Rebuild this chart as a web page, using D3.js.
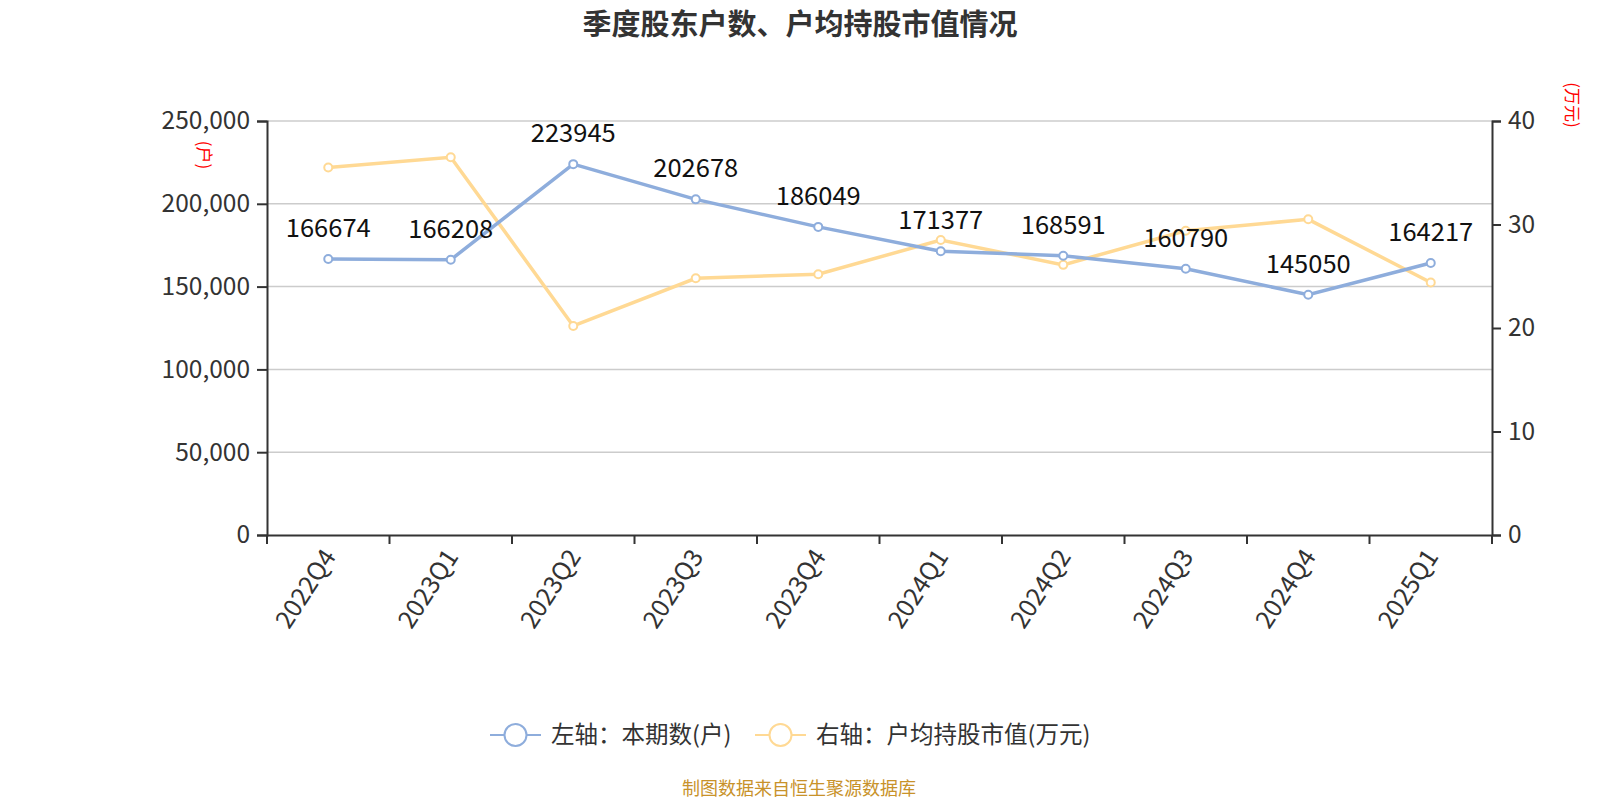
<!DOCTYPE html>
<html>
<head>
<meta charset="utf-8">
<script src="https://cdn.jsdelivr.net/npm/d3@7"></script>
<style>
  body { margin: 0; background: #fff; }
  text { font-family: "Noto Sans CJK SC", "Noto Sans", sans-serif; }
</style>
</head>
<body>
<svg id="chart" width="1600" height="800"></svg>
<script>
// quarters on the x axis
let quarters = ["2022Q4", "2023Q1", "2023Q2", "2023Q3", "2023Q4", "2024Q1", "2024Q2", "2024Q3", "2024Q4", "2025Q1"];
// left axis: holder count
let holders = [166674, 166208, 223945, 202678, 186049, 171377, 168591, 160790, 145050, 164217];
// right axis: avg market value per holder (wan yuan)
let avgValue = [35.5, 36.5, 20.2, 24.8, 25.2, 28.5, 26.1, 29.4, 30.5, 24.4];
let leftTicks = [0, 50000, 100000, 150000, 200000, 250000];
let rightTicks = [0, 10, 20, 30, 40];

let svg = d3.select("#chart");
let margin = {top: 121, left: 267, right: 108, bottom: 265};
let width = 1600 - margin.left - margin.right,
    height = 800 - margin.top - margin.bottom;

let x = d3.scaleBand().domain(quarters).range([0, width]);
let yL = d3.scaleLinear().domain([0, 250000]).range([height, 0]);
let yR = d3.scaleLinear().domain([0, 40]).range([height, 0]);

let g = svg.append("g").attr("transform", "translate(" + margin.left + "," + margin.top + ")");

// title
svg.append("text")
  .attr("x", 800).attr("y", 35)
  .attr("text-anchor", "middle")
  .attr("font-size", 29).attr("font-weight", "bold").attr("fill", "#333")
  .text("季度股东户数、户均持股市值情况");

// grid
g.selectAll(".grid").data(leftTicks.slice(1)).enter().append("line")
  .attr("x1", 0).attr("x2", width)
  .attr("y1", d => yL(d)).attr("y2", d => yL(d))
  .attr("stroke", "#ccc").attr("stroke-width", 1.5);

// axes
let fmt = d3.format(",");
let axL = g.append("g").call(d3.axisLeft(yL).tickValues(leftTicks).tickFormat(fmt).tickSizeOuter(0).tickSize(10).tickPadding(7));
let axR = g.append("g").attr("transform", "translate(" + width + ",0)")
  .call(d3.axisRight(yR).tickValues(rightTicks).tickSizeOuter(0).tickSize(9).tickPadding(7));
let axB = g.append("g").attr("transform", "translate(0," + height + ")")
  .call(d3.axisBottom(x).tickSize(0).tickSizeOuter(0).tickFormat(""));
// category boundary ticks
axB.selectAll(".sep").data(d3.range(quarters.length + 1)).enter().append("line")
  .attr("x1", i => i * x.bandwidth()).attr("x2", i => i * x.bandwidth())
  .attr("y1", 0).attr("y2", 9).attr("stroke", "#333").attr("stroke-width", 2);
axB.selectAll(".lbl").data(quarters).enter().append("text")
  .attr("transform", d => "translate(" + (x(d) + x.bandwidth() / 2 - 6) + ",12) rotate(-57)")
  .attr("text-anchor", "end").attr("dy", "0.7em")
  .attr("font-size", 25).attr("fill", "#333")
  .attr("font-family", "Noto Sans, sans-serif")
  .text(d => d);

[axL, axR, axB].forEach(a => {
  a.select(".domain").attr("stroke", "#333").attr("stroke-width", 2);
  a.selectAll(".tick line").attr("stroke", "#333").attr("stroke-width", 2);
  a.selectAll(".tick text").attr("font-size", 24.5).attr("fill", "#333")
    .attr("font-family", "Noto Sans, sans-serif");
});

// axis unit labels
svg.append("text").attr("transform", "translate(198,155) rotate(90)")
  .attr("text-anchor", "middle").attr("font-size", 17).attr("fill", "red").text("(户)");
svg.append("text").attr("transform", "translate(1566,105) rotate(90)")
  .attr("text-anchor", "middle").attr("font-size", 17).attr("fill", "red").text("(万元)");

let cx = d => x(d) + x.bandwidth() / 2;
let blue = "#8eaddc", yellow = "#ffd994";

// yellow line
g.append("path").datum(avgValue)
  .attr("fill", "none").attr("stroke", yellow).attr("stroke-width", 3.5)
  .attr("d", d3.line().x((d, i) => cx(quarters[i])).y(d => yR(d)));
g.selectAll(".dotR").data(avgValue).enter().append("circle")
  .attr("cx", (d, i) => cx(quarters[i])).attr("cy", d => yR(d)).attr("r", 4)
  .attr("fill", "#fff").attr("stroke", yellow).attr("stroke-width", 2);

// blue line
g.append("path").datum(holders)
  .attr("fill", "none").attr("stroke", blue).attr("stroke-width", 3.5)
  .attr("d", d3.line().x((d, i) => cx(quarters[i])).y(d => yL(d)));
g.selectAll(".dotL").data(holders).enter().append("circle")
  .attr("cx", (d, i) => cx(quarters[i])).attr("cy", d => yL(d)).attr("r", 4)
  .attr("fill", "#fff").attr("stroke", blue).attr("stroke-width", 2);

// value labels
g.selectAll(".val").data(holders).enter().append("text")
  .attr("x", (d, i) => cx(quarters[i])).attr("y", d => yL(d) - 22)
  .attr("text-anchor", "middle").attr("font-size", 25.5).attr("fill", "#111")
  .attr("font-family", "Noto Sans, sans-serif")
  .text(d => d);

// legend
let legend = [{name: "左轴：本期数(户)", color: blue, x: 490}, {name: "右轴：户均持股市值(万元)", color: yellow, x: 755}];
let lg = svg.selectAll(".leg").data(legend).enter().append("g")
  .attr("transform", d => "translate(" + d.x + ",735)");
lg.append("line").attr("x1", 0).attr("x2", 51).attr("stroke", d => d.color).attr("stroke-width", 2);
lg.append("circle").attr("cx", 25.5).attr("r", 11).attr("fill", "#fff").attr("stroke", d => d.color).attr("stroke-width", 2);
lg.append("text").attr("x", 61).attr("dy", "0.35em").attr("font-size", 23.5).attr("fill", "#333").text(d => d.name);

// footer
svg.append("text").attr("x", 799).attr("y", 795).attr("text-anchor", "middle")
  .attr("font-size", 18).attr("fill", "#c8922a").text("制图数据来自恒生聚源数据库");
</script>
</body>
</html>
